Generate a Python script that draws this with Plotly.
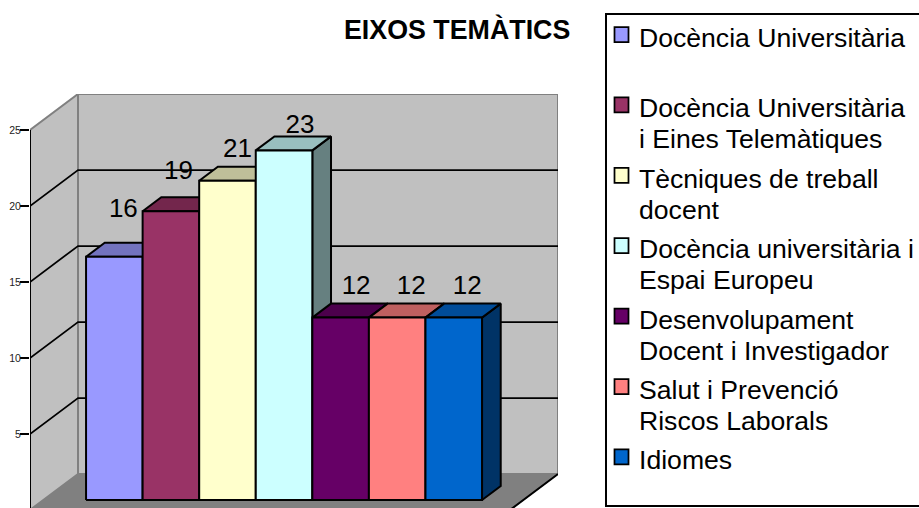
import plotly.graph_objects as go

TITLE = "EIXOS TEMÀTICS"
CATEGORIES = [
    ["Docència Universitària"],
    ["Docència Universitària", "i Eines Telemàtiques"],
    ["Tècniques de treball", "docent"],
    ["Docència universitària i", "Espai Europeu"],
    ["Desenvolupament", "Docent i Investigador"],
    ["Salut i Prevenció", "Riscos Laborals"],
    ["Idiomes"],
]
VALUES = [16, 19, 21, 23, 12, 12, 12]
COLORS = ["#9999FF", "#993366", "#FFFFCC", "#CCFFFF", "#660066", "#FF8080", "#0066CC"]
TICKS = [5, 10, 15, 20, 25]

W, H = 919, 508
PX_LEFT, PX_RIGHT, PX_TOP = 30, 558, 94
PX_ZERO, PX_PER_VALUE = 510, 15.2
PX_PER_BAR = 56.57
DEPTH_X, DEPTH_Y = 48 / PX_PER_BAR, 36 / PX_PER_VALUE
BAR_FRONT, BAR_BACK = 0.278, 0.667
X0 = -0.755
X1 = X0 + (PX_RIGHT - PX_LEFT - 48) / PX_PER_BAR
YMAX = 25
# nudges (px) of each value label from the bar's front top centre
LABEL_DX = [9, 7.5, 10, 16, 15.5, 14, 13.5]
LABEL_DY = [46.5, 38.5, 30.5, 24, 30.5, 30.5, 30.5]


def proj(x, v, d):
    return x + d * DEPTH_X, v + d * DEPTH_Y


def poly(fig, pts, fill, line, width=2, closed=True):
    p = [proj(*q) for q in pts]
    if closed:
        p = p + [p[0]]
    fig.add_trace(go.Scatter(
        x=[a for a, _ in p], y=[b for _, b in p], mode="lines",
        fill="toself" if fill else "none", fillcolor=fill,
        line=dict(color=line, width=width), hoverinfo="skip",
        showlegend=False, cliponaxis=False,
    ))


def shade(c, f):
    r, g, b = int(c[1:3], 16), int(c[3:5], 16), int(c[5:7], 16)
    return "#%02X%02X%02X" % (round(r * f), round(g * f), round(b * f))


fig = go.Figure()
GREY_W, GREY_F, GREY_L = "#C0C0C0", "#808080", "#808080"
poly(fig, [(X0, 0, 0), (X1, 0, 0), (X1, 0, 1), (X0, 0, 1)], GREY_F, GREY_F, 1)
poly(fig, [(X0, 0, 1), (X1, 0, 1), (X1, YMAX, 1), (X0, YMAX, 1)], GREY_W, GREY_L, 2)
poly(fig, [(X0, 0, 0), (X0, 0, 1), (X0, YMAX, 1), (X0, YMAX, 0)], GREY_W, GREY_L, 2)
poly(fig, [(X0, 0, 0), (X1, 0, 0), (X1, 0, 1)], None, "#000000", 2, closed=False)
for t in TICKS[:-1]:
    poly(fig, [(X0, t, 0), (X0, t, 1), (X1, t, 1)], None, "#000000", 1.75, closed=False)
poly(fig, [(X0, 0, 0), (X0, YMAX, 0)], None, "#000000", 2, closed=False)

for i, (v, c) in enumerate(zip(VALUES, COLORS)):
    a, b = i, i + 1
    poly(fig, [(b, 0, BAR_FRONT), (b, 0, BAR_BACK), (b, v, BAR_BACK), (b, v, BAR_FRONT)],
         shade(c, 0.5), "#000000")
    poly(fig, [(a, v, BAR_FRONT), (b, v, BAR_FRONT), (b, v, BAR_BACK), (a, v, BAR_BACK)],
         shade(c, 0.75), "#000000")
    poly(fig, [(a, 0, BAR_FRONT), (b, 0, BAR_FRONT), (b, v, BAR_FRONT), (a, v, BAR_FRONT)],
         c, "#000000")

lx, ly = [], []
for i, v in enumerate(VALUES):
    px, py = proj(i + 0.5, v, BAR_FRONT)
    lx.append(px + LABEL_DX[i] / PX_PER_BAR)
    ly.append(py + LABEL_DY[i] / PX_PER_VALUE)
fig.add_trace(go.Scatter(
    x=lx, y=ly, mode="text", text=[str(v) for v in VALUES], textposition="middle center",
    textfont=dict(family="Liberation Sans", size=26, color="#000000"),
    hoverinfo="skip", showlegend=False, cliponaxis=False,
))


def pxx(p):
    return p / W


def pxy(p):
    return 1 - p / H


shapes = [dict(type="rect", xref="paper", yref="paper", x0=pxx(606), x1=pxx(930),
               y0=pxy(506), y1=pxy(14), line=dict(color="#000000", width=2),
               fillcolor="#FFFFFF", layer="below")]
annotations = [dict(text=TITLE, xref="paper", yref="paper", x=pxx(457), y=pxy(29.5),
                    showarrow=False, xanchor="center", yanchor="middle",
                    font=dict(family="Liberation Sans", size=26.8, color="#000000", weight="bold"))]
for i, (lines, c) in enumerate(zip(CATEGORIES, COLORS)):
    top = 34.5 + 70.4 * i
    shapes.append(dict(type="rect", xref="paper", yref="paper", x0=pxx(614.5), x1=pxx(628.5),
                       y0=pxy(top + 7.5), y1=pxy(top - 7.5),
                       line=dict(color="#000000", width=1.75), fillcolor=c, layer="above"))
    for j, s in enumerate(lines):
        annotations.append(dict(text=s, xref="paper", yref="paper", x=pxx(636.5),
                                y=pxy(top + 3.5 + 31 * j),
                                showarrow=False, xanchor="left", yanchor="middle",
                                font=dict(family="Liberation Sans", size=26.6, color="#000000")))

fig.update_layout(
    width=W, height=H, margin=dict(l=0, r=0, t=0, b=0, autoexpand=False),
    paper_bgcolor="#FFFFFF", plot_bgcolor="rgba(0,0,0,0)", showlegend=False,
    xaxis=dict(domain=[PX_LEFT / W, PX_RIGHT / W],
               range=[X0, X0 + (PX_RIGHT - PX_LEFT) / PX_PER_BAR],
               visible=False, fixedrange=True),
    yaxis=dict(domain=[0, 1 - PX_TOP / H],
               range=[(PX_ZERO - H) / PX_PER_VALUE, (PX_ZERO - PX_TOP) / PX_PER_VALUE],
               tickmode="array", tickvals=TICKS, ticktext=[str(t) for t in TICKS],
               ticks="outside", ticklen=9, tickwidth=1.75, tickcolor="#000000",
               ticklabelstandoff=-3,
               showgrid=False, zeroline=False, showline=False, automargin=False,
               tickfont=dict(family="Liberation Sans", size=10.5, color="#222222"),
               fixedrange=True),
    shapes=shapes, annotations=annotations,
)
fig.write_html("out.html", config=dict(displayModeBar=False),
               post_script="document.body.style.margin='0';document.documentElement.style.overflow='hidden';")
